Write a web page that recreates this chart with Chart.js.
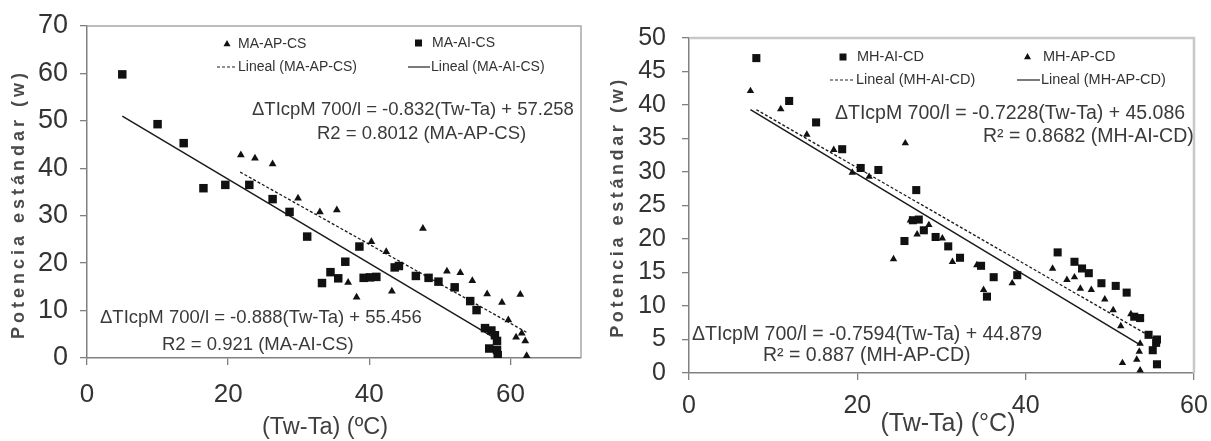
<!DOCTYPE html>
<html>
<head>
<meta charset="utf-8">
<script src="https://cdn.jsdelivr.net/npm/chart.js@4.4.1/dist/chart.umd.min.js"></script>
<style>
  html, body { margin: 0; padding: 0; background: #fff; }
  #wrap { position: relative; width: 1211px; height: 441px; overflow: hidden; }
  .box { position: absolute; top: 0; height: 441px; }
  #leftBox { left: 0; width: 600px; }
  #rightBox { left: 600px; width: 611px; }
</style>
</head>
<body>
<div id="wrap">
  <div class="box" id="leftBox"><canvas id="chartLeft"></canvas></div>
  <div class="box" id="rightBox"><canvas id="chartRight"></canvas></div>
</div>
<script>
// ---- left panel (MA, CS) ----
const xTicksLeft = [0, 20, 40, 60];
const yTicksLeft = [0, 10, 20, 30, 40, 50, 60, 70];

const maApCsX = [21.8, 23.8, 26.3, 29.9, 33.0, 35.4, 37.0, 38.2, 40.3, 42.4, 43.2, 47.6,
                 51.0, 52.9, 54.6, 56.7, 58.8, 59.7, 61.4, 60.8, 61.6, 62.1, 62.3];
const maApCsY = [42.8, 42.1, 40.9, 33.7, 30.8, 31.2, 15.9, 12.8, 24.5, 22.4, 14.1, 27.3,
                 18.3, 18.0, 16.3, 13.5, 11.7, 8.0, 13.4, 4.4, 5.2, 3.6, 0.5];

const maAiCsX = [5.0, 10.0, 13.7, 16.5, 19.6, 23.0, 26.3, 28.7, 31.2, 33.3, 34.5, 35.6,
                 36.6, 38.6, 39.2, 40.1, 41.0, 43.6, 44.2, 46.6, 48.4, 49.8, 52.1, 54.3,
                 55.2, 56.4, 57.3, 57.8, 58.1, 57.0, 58.1, 58.2];
const maAiCsY = [59.8, 49.3, 45.3, 35.8, 36.5, 36.5, 33.5, 30.8, 25.6, 15.8, 18.1, 16.8,
                 20.3, 23.5, 16.9, 17.0, 17.1, 19.1, 19.4, 17.3, 16.9, 16.1, 14.9, 12.0,
                 10.1, 6.3, 5.8, 4.8, 3.6, 2.0, 1.7, 0.6];

// trend line ends
const fitMaApCsX = [21.7, 62.3], fitMaApCsY = [39.2, 5.4];
const fitMaAiCsX = [5.0, 58.2], fitMaAiCsY = [51.0, 3.8];

// ---- right panel (MH, CD) ----
const xTicksRight = [0, 20, 40, 60];
const yTicksRight = [0, 5, 10, 15, 20, 25, 30, 35, 40, 45, 50];

const mhAiCdX = [8.0, 11.9, 15.1, 18.2, 20.4, 22.5, 27.0, 26.6, 27.3, 27.9, 25.6, 29.3,
                 30.8, 32.2, 34.7, 36.2, 35.4, 39.0, 43.8, 45.8, 46.7, 47.5, 49.0, 50.7,
                 52.0, 52.9, 53.6, 54.6, 55.5, 55.6, 55.1, 55.6];
const mhAiCdY = [47.0, 40.6, 37.4, 33.4, 30.6, 30.3, 27.3, 22.8, 22.9, 21.3, 19.7, 20.3,
                 18.9, 17.2, 16.0, 14.3, 11.4, 14.6, 18.0, 16.6, 15.6, 14.9, 13.4, 13.0,
                 12.0, 8.4, 8.2, 5.7, 4.5, 5.0, 3.4, 1.3];

const mhApCdX = [7.3, 10.9, 14.0, 17.2, 19.4, 21.4, 25.7, 24.3, 26.3, 27.1, 28.5, 30.1,
                 31.3, 34.2, 35.0, 38.4, 43.2, 44.9, 45.8, 46.5, 47.8, 49.4, 50.4, 52.5,
                 51.3, 51.5, 53.2, 53.5, 53.6, 53.6];
const mhApCdY = [42.1, 39.4, 35.6, 33.3, 29.9, 29.3, 34.3, 17.0, 22.8, 20.7, 22.1, 20.1,
                 16.6, 16.1, 12.4, 13.4, 15.6, 13.9, 14.3, 12.6, 12.4, 11.0, 9.4, 8.8,
                 7.0, 1.5, 2.0, 3.2, 4.4, 0.4];

const fitMhAiCdX = [8.0, 55.6], fitMhAiCdY = [39.3, 4.9];
const fitMhApCdX = [7.3, 53.6], fitMhApCdY = [39.3, 4.2];

const yTitle = "Potencia estándar (w)";

const FONT = "'Liberation Sans', Arial, sans-serif";
const INK = "#111";

function pts(xs, ys) {
  return xs.map((x, i) => ({ x: x, y: ys[i] }));
}

function markerSet(label, xs, ys, style, r) {
  return {
    label: label, data: pts(xs, ys), order: 0,
    pointStyle: style, pointRadius: r, pointHoverRadius: r,
    pointBackgroundColor: INK, pointBorderColor: INK, pointBorderWidth: 0,
    showLine: false
  };
}

function fitSet(label, xs, ys, dashed) {
  return {
    label: label, data: pts(xs, ys), order: 1,
    showLine: true, borderColor: "#1a1a1a", borderWidth: dashed ? 1.3 : 1.5,
    borderDash: dashed ? [3, 2] : [], pointRadius: 0, pointHoverRadius: 0
  };
}

function drawMark(ctx, kind, x, y) {
  ctx.fillStyle = INK;
  ctx.beginPath();
  if (kind === "triangle") {
    ctx.moveTo(x, y - 4);
    ctx.lineTo(x + 3.5, y + 2.2);
    ctx.lineTo(x - 3.5, y + 2.2);
    ctx.closePath();
    ctx.fill();
  } else {
    ctx.fillRect(x - 3.5, y - 3.5, 7, 7);
  }
}

function decor(p) {
  return {
    id: "panelDecor",
    beforeDatasetsDraw(chart) {
      const ctx = chart.ctx, a = chart.chartArea;
      ctx.save();
      ctx.strokeStyle = p.frameColor;
      ctx.lineWidth = p.frameWidth;
      ctx.beginPath();
      ctx.moveTo(a.left, a.top);
      ctx.lineTo(a.right, a.top);
      ctx.lineTo(a.right, a.bottom);
      ctx.stroke();
      ctx.restore();
    },
    afterDatasetsDraw(chart) {
      const ctx = chart.ctx;
      ctx.save();
      ctx.textBaseline = "middle";
      ctx.textAlign = "left";

      // legend, two columns inside the plot
      ctx.font = p.legendFont;
      p.legend.forEach(item => {
        const ds = chart.data.datasets[item.ds];
        if (item.kind === "line") {
          ctx.strokeStyle = "#222";
          ctx.lineWidth = 1.2;
          ctx.setLineDash(ds.borderDash && ds.borderDash.length ? [3, 2] : []);
          ctx.beginPath();
          ctx.moveTo(item.x0, item.y);
          ctx.lineTo(item.x1, item.y);
          ctx.stroke();
          ctx.setLineDash([]);
        } else {
          drawMark(ctx, item.kind, (item.x0 + item.x1) / 2, item.y);
        }
        ctx.fillStyle = "#333";
        ctx.fillText(ds.label, item.tx, item.y);
      });

      // trend line equations
      ctx.font = p.noteFont;
      ctx.fillStyle = "#3a3a3a";
      p.notes.forEach(n => ctx.fillText(n.text, n.x, n.y));

      // axis titles
      ctx.fillStyle = "#3f3f3f";
      ctx.textAlign = "center";
      ctx.font = p.xTitleFont;
      ctx.fillText(p.xTitle, p.xTitleX, p.xTitleY);

      ctx.translate(p.yTitleX, p.yTitleY);
      ctx.rotate(-Math.PI / 2);
      ctx.font = p.yTitleFont;
      ctx.fillStyle = "#4a4a4a";
      if ("letterSpacing" in ctx) ctx.letterSpacing = p.yTitleSpacing;
      ctx.fillText(yTitle, 0, 0);
      ctx.restore();
    }
  };
}

function axis(min, max, ticks, tickSize, pad, fitFn) {
  return {
    type: "linear", min: min, max: max,
    afterBuildTicks: s => { s.ticks = ticks.map(v => ({ value: v })); },
    afterFit: s => {
      fitFn(s);
      s.paddingLeft = 0; s.paddingRight = 0; s.paddingTop = 0; s.paddingBottom = 0;
    },
    grid: { display: true, drawOnChartArea: false, drawTicks: true, tickLength: 7,
            color: "#808080", lineWidth: 1.3 },
    border: { display: true, color: "#808080", width: 1.5 },
    ticks: { font: { family: FONT, size: tickSize }, color: "#333", padding: pad,
             autoSkip: false, maxRotation: 0, callback: v => String(v) }
  };
}

function panel(id, p) {
  return new Chart(document.getElementById(id).getContext("2d"), {
    type: "scatter",
    data: { datasets: p.datasets },
    options: {
      responsive: true,
      maintainAspectRatio: false,
      animation: false,
      layout: { padding: p.padding },
      plugins: { legend: { display: false }, tooltip: { enabled: false } },
      scales: {
        x: axis(p.xMin, p.xMax, p.xTicks, p.xTickSize, p.xPad, s => { s.height = p.xAxisH; }),
        y: axis(0, p.yMax, p.yTicks, p.yTickSize, p.yPad, s => { s.width = p.yAxisW; })
      }
    },
    plugins: [decor(p)]
  });
}

panel("chartLeft", {
  datasets: [
    markerSet("MA-AP-CS", maApCsX, maApCsY, "triangle", 4.5),
    markerSet("MA-AI-CS", maAiCsX, maAiCsY, "rect", 6),
    fitSet("Lineal (MA-AP-CS)", fitMaApCsX, fitMaApCsY, true),
    fitSet("Lineal (MA-AI-CS)", fitMaAiCsX, fitMaAiCsY, false)
  ],
  xMin: 0, xMax: 70, xTicks: xTicksLeft, xTickSize: 26, xPad: 14, xAxisH: 83,
  yMax: 70, yTicks: yTicksLeft, yTickSize: 27, yPad: 12, yAxisW: 87,
  padding: { top: 26, right: 19, bottom: 0, left: 0 },
  frameColor: "#a8a8a8", frameWidth: 1.5,
  legendFont: "14px " + FONT,
  legend: [
    { ds: 0, kind: "triangle", x0: 217, x1: 237, y: 44, tx: 238 },
    { ds: 1, kind: "rect", x0: 408, x1: 429, y: 43, tx: 432 },
    { ds: 2, kind: "line", x0: 217, x1: 237, y: 67, tx: 238 },
    { ds: 3, kind: "line", x0: 408, x1: 430, y: 67, tx: 431 }
  ],
  noteFont: "18.5px " + FONT,
  notes: [
    { text: "\u0394TIcpM 700/l = -0.832(Tw-Ta) + 57.258", x: 252, y: 110 },
    { text: "R2 = 0.8012 (MA-AP-CS)", x: 317, y: 134 },
    { text: "\u0394TIcpM 700/l = -0.888(Tw-Ta) + 55.456", x: 100, y: 318 },
    { text: "R2 = 0.921 (MA-AI-CS)", x: 162, y: 345 }
  ],
  xTitle: "(Tw-Ta) (\u00baC)", xTitleFont: "23.5px " + FONT, xTitleX: 325, xTitleY: 428,
  yTitleFont: "bold 18px " + FONT, yTitleSpacing: "4px", yTitleX: 19, yTitleY: 204
});

panel("chartRight", {
  datasets: [
    markerSet("MH-AI-CD", mhAiCdX, mhAiCdY, "rect", 5.7),
    markerSet("MH-AP-CD", mhApCdX, mhApCdY, "triangle", 4.3),
    fitSet("Lineal (MH-AI-CD)", fitMhAiCdX, fitMhAiCdY, true),
    fitSet("Lineal (MH-AP-CD)", fitMhApCdX, fitMhApCdY, false)
  ],
  xMin: 0, xMax: 60, xTicks: xTicksRight, xTickSize: 25, xPad: 11, xAxisH: 68,
  yMax: 50, yTicks: yTicksRight, yTickSize: 25, yPad: 16, yAxisW: 89,
  padding: { top: 38, right: 17, bottom: 0, left: 0 },
  frameColor: "#c8c8c8", frameWidth: 2.5,
  legendFont: "14.5px " + FONT,
  legend: [
    { ds: 0, kind: "rect", x0: 231, x1: 255, y: 57, tx: 257 },
    { ds: 1, kind: "triangle", x0: 417, x1: 438, y: 57, tx: 443 },
    { ds: 2, kind: "line", x0: 230, x1: 255, y: 80, tx: 256 },
    { ds: 3, kind: "line", x0: 417, x1: 440, y: 80, tx: 441 }
  ],
  noteFont: "19.5px " + FONT,
  notes: [
    { text: "\u0394TIcpM 700/l = -0.7228(Tw-Ta) + 45.086", x: 235, y: 114 },
    { text: "R\u00b2 = 0.8682 (MH-AI-CD)", x: 383, y: 137 },
    { text: "\u0394TIcpM 700/l = -0.7594(Tw-Ta) + 44.879", x: 92, y: 335 },
    { text: "R\u00b2 = 0.887 (MH-AP-CD)", x: 163, y: 356 }
  ],
  xTitle: "(Tw-Ta) (\u00b0C)", xTitleFont: "25px " + FONT, xTitleX: 348, xTitleY: 424,
  yTitleFont: "bold 18px " + FONT, yTitleSpacing: "3.6px", yTitleX: 18, yTitleY: 207
});
</script>
</body>
</html>
